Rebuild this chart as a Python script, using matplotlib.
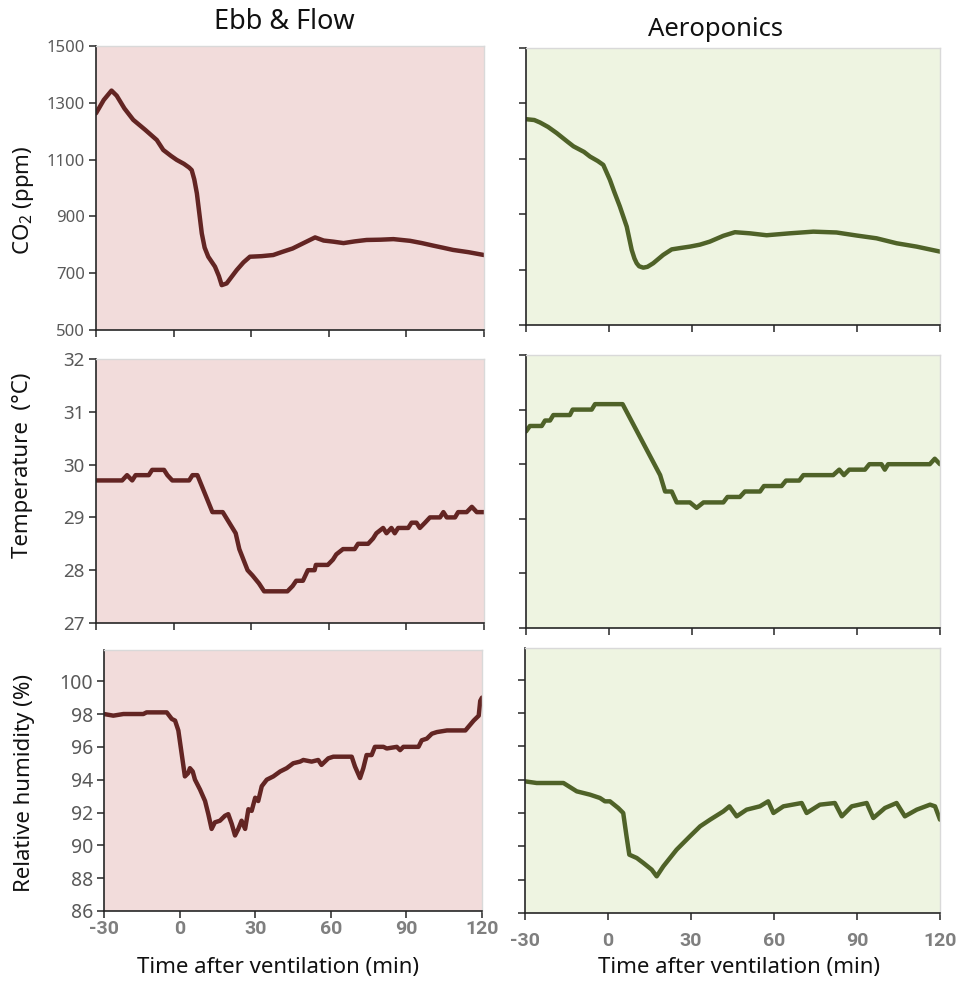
import matplotlib
matplotlib.use("Agg")
import matplotlib.pyplot as plt
import numpy as np

plt.rcParams['font.family'] = ['Noto Sans', 'DejaVu Sans']
plt.rcParams['mathtext.fontset'] = 'custom'
plt.rcParams['mathtext.rm'] = 'Noto Sans'
plt.rcParams['mathtext.it'] = 'Noto Sans:italic'

# ---------------- data ----------------
# Ebb & Flow CO2
ef_co2_t = [-30, -27, -24, -22, -19, -15.6, -11, -6.5, -4, -1, 1.2, 4, 6, 7, 8, 9, 10.9, 12, 13.4,
            16, 17.5, 18.6, 20.5, 24.4, 27, 29.5, 34, 38.5, 42, 46, 50, 54.7, 58, 61.8, 65.7,
            70, 74.6, 80, 85, 91.4, 96, 100.4, 104, 108, 114, 120]
ef_co2_v = [1263, 1310, 1343, 1325, 1280, 1240, 1205, 1169, 1134, 1113, 1099, 1085, 1072, 1063, 1030,
            981, 840, 790, 758, 723, 690, 658, 664, 711, 738, 758, 760, 764, 775, 787, 805, 826, 815,
            811, 806, 812, 817, 818, 820, 814, 806, 797, 790, 782, 774, 764]

# Aeroponics CO2
ae_co2_t = [-30, -27, -24.9, -22, -18.9, -15, -12.8, -9, -6.8, -4, -2, 0.4, 2, 4, 6.5, 8.3, 9.3,
            10.1, 11, 12.5, 14, 16.1, 19.7, 22.8, 26, 29.4, 33, 36.6, 41.5, 45.7, 51.1, 57.2,
            65.6, 74.1, 82.5, 89.8, 97, 104.3, 111.5, 120]
ae_co2_v = [1243, 1240, 1231, 1215, 1193, 1162, 1145, 1125, 1108, 1092, 1078, 1024, 980, 928, 855, 771,
            740, 723, 712, 707, 710, 723, 753, 773, 778, 783, 790, 801, 822, 835, 831, 824,
            831, 837, 834, 823, 813, 795, 783, 765]

# Ebb & Flow temperature
ef_tmp_t = [-30, -19.9, -18, -16, -14.7, -9.6, -8.3, -3.7, -2.4, -0.5, 6, 7.3, 9.2, 15, 19,
            24, 25.4, 28.6, 30.5, 33, 35, 44, 46, 47.4, 50, 51.9, 54.5, 55, 59.6, 61.6, 62.9,
            65.5, 70, 71.3, 75.2, 77.1, 78.4, 81, 82.3, 84.2, 85.5, 86.8, 90.7, 92, 93.9, 95.2,
            97.2, 99.1, 103, 104.3, 105.6, 108.8, 110, 113.3, 115.3, 117.2, 120]
ef_tmp_v = [29.7, 29.7, 29.8, 29.7, 29.8, 29.8, 29.9, 29.9, 29.8, 29.7, 29.7, 29.8, 29.8, 29.1, 29.1,
            28.7, 28.4, 28.0, 27.9, 27.75, 27.6, 27.6, 27.7, 27.8, 27.8, 28.0, 28.0, 28.1, 28.1, 28.2, 28.3,
            28.4, 28.4, 28.5, 28.5, 28.6, 28.7, 28.8, 28.7, 28.8, 28.7, 28.8, 28.8, 28.9, 28.9, 28.8,
            28.9, 29.0, 29.0, 29.1, 29.0, 29.0, 29.1, 29.1, 29.2, 29.1, 29.1]

# Aeroponics temperature
ae_tmp_t = [-30, -28.6, -24.3, -23.1, -21.3, -20.1, -14.1, -13.1, -6.2, -5, 5, 18.6, 20.4, 22.8,
            24.6, 29.4, 31.8, 34.3, 41.5, 43, 47.5, 49.3, 54.8, 56.2, 62.6, 64.2, 69, 70.5, 81.3,
            83.5, 85.2, 87.1, 92.8, 94.4, 98.8, 100, 101.2, 116.3, 118.1, 120]
ae_tmp_v = [30.6, 30.7, 30.7, 30.8, 30.8, 30.9, 30.9, 31.0, 31.0, 31.1, 31.1, 29.8, 29.5, 29.5,
            29.3, 29.3, 29.2, 29.3, 29.3, 29.4, 29.4, 29.5, 29.5, 29.6, 29.6, 29.7, 29.7, 29.8, 29.8,
            29.9, 29.8, 29.9, 29.9, 30.0, 30.0, 29.9, 30.0, 30.0, 30.1, 30.0]

# Ebb & Flow relative humidity
ef_rh_t = [-30, -26.3, -22.3, -14.4, -13.1, -5.1, -3.1, -1.8, -0.5, 0.8, 2.1, 3.4, 4.1, 5.2, 6.1,
           8.1, 10.1, 11.4, 12.7, 14.0, 16.0, 18.0, 19.3, 20.7, 22.0, 23.3, 24.6, 26.0, 27.3,
           28.6, 30.0, 31.2, 32.6, 34.6, 37.2, 39.9, 42.5, 45.1, 47.8, 49.1, 52.4, 55, 56.3, 59,
           61, 68.3, 69.6, 71.6, 72.9, 74.2, 76.2, 77.5, 80.9, 82.2, 86.2, 87.5, 88.8, 94.8, 96.1,
           98.1, 100.1, 102.1, 106.1, 113.4, 116.7, 118.7, 119.3, 120]
ef_rh_v = [98.0, 97.9, 98.0, 98.0, 98.1, 98.1, 97.7, 97.6, 97.0, 95.6, 94.2, 94.4, 94.7, 94.5, 94.0,
           93.4, 92.7, 91.9, 91.0, 91.4, 91.5, 91.8, 91.9, 91.3, 90.6, 91.0, 91.5, 91.0, 92.2,
           92.1, 92.9, 92.7, 93.6, 94.0, 94.2, 94.5, 94.7, 95.0, 95.1, 95.2, 95.1, 95.2, 94.9, 95.3,
           95.4, 95.4, 94.8, 94.1, 94.7, 95.5, 95.5, 96.0, 96.0, 95.9, 96.0, 95.8, 96.0, 96.0, 96.4,
           96.5, 96.8, 96.9, 97.0, 97.0, 97.6, 97.9, 98.8, 99.0]

# Aeroponics relative humidity
ae_rh_t = [-30, -25.8, -16.1, -11.3, -6.5, -2.9, -1.1, 0.7, 3.7, 5.5, 6.7, 7.7, 10.4, 12.8, 15.8,
           17.6, 20.0, 24.8, 29.6, 33.3, 36.9, 41.7, 43.9, 46.5, 50.1, 54.9, 57.9, 59.8, 63.4, 70,
           71.8, 76.6, 82, 84.5, 88.1, 93.5, 95.9, 100.1, 104.3, 107.3, 111.6, 116.4, 118.2, 120]
ae_rh_v = [93.9, 93.8, 93.8, 93.3, 93.1, 92.9, 92.7, 92.7, 92.3, 92.0, 90.6, 89.5, 89.3, 89.0, 88.6,
           88.2, 88.8, 89.8, 90.6, 91.2, 91.6, 92.1, 92.4, 91.8, 92.2, 92.4, 92.7, 92.0, 92.4, 92.6,
           92.0, 92.5, 92.6, 91.8, 92.4, 92.6, 91.7, 92.3, 92.6, 91.8, 92.2, 92.5, 92.4, 91.6]

x_ticks = [-30, 0, 30, 60, 90, 120]
co2_ticks = [500, 700, 900, 1100, 1300, 1500]
tmp_ticks = [27, 28, 29, 30, 31, 32]
rh_ticks = [86, 88, 90, 92, 94, 96, 98, 100]

titles = ["Ebb & Flow", "Aeroponics"]
ylabels = ["CO$_\\mathregular{2}$ (ppm)", "Temperature  (\u00b0C)", "Relative humidity (%)"]
xlabel = "Time after ventilation (min)"

# ---------------- style ----------------
W, H = 956, 981
fig = plt.figure(figsize=(W / 100, H / 100), dpi=100)

bg = ["#F2DCDB", "#EEF4E1"]
lc = ["#632523", "#4F6228"]
tick_col = "#595959"

def px_rect(x0, x1, y0, y1):
    return [x0 / W, 1 - y1 / H, (x1 - x0) / W, (y1 - y0) / H]

rects = [
    [px_rect(96, 484, 46, 330), px_rect(526, 940, 48, 325)],
    [px_rect(96, 484, 359, 623), px_rect(526, 940, 355, 628)],
    [px_rect(104, 482, 650, 911), px_rect(525, 940, 648, 913)],
]

data = [
    [(ef_co2_t, ef_co2_v), (ae_co2_t, ae_co2_v)],
    [(ef_tmp_t, ef_tmp_v), (ae_tmp_t, ae_tmp_v)],
    [(ef_rh_t, ef_rh_v), (ae_rh_t, ae_rh_v)],
]
ylims = [(500, 1500), (27, 32), (86, 101.9)]
yticks = [co2_ticks, tmp_ticks, rh_ticks]
ytick_size = [12, 13.5, 14]
ylabel_pos = [(23, 200), (23, 465), (25, 783)]
xlabel_pos = [(278, 967), (739, 968)]
xtick_pad = [1.5, 8.5]

for r in range(3):
    for c in range(2):
        ax = fig.add_axes(rects[r][c])
        ax.set_facecolor(bg[c])
        t, v = data[r][c]
        ax.plot(t, v, color=lc[c], lw=3.2, solid_joinstyle='round', solid_capstyle='round')
        ax.set_xlim(-30, 120)
        ax.set_ylim(*ylims[r])
        ax.set_xticks(x_ticks)
        ax.set_yticks(yticks[r])
        for s in ['top', 'right']:
            ax.spines[s].set_color('#D9D9D9')
            ax.spines[s].set_linewidth(1.0)
        for s in ['left', 'bottom']:
            ax.spines[s].set_color('#262626')
            ax.spines[s].set_linewidth(1.2)
        ax.tick_params(direction='out', length=5, width=1.1, color='#262626',
                       labelcolor=tick_col)
        ax.tick_params(axis='y', labelsize=ytick_size[r], pad=3)
        if r < 2:
            ax.set_xticklabels([])
        else:
            ax.tick_params(axis='x', pad=xtick_pad[c])
            ax.set_xticklabels([str(x) for x in x_ticks], family=['Roboto', 'DejaVu Sans'],
                               fontweight='bold', fontsize=14, color='#7F7F7F')
        if c == 1:
            ax.set_yticklabels([])

for r in range(3):
    x, y = ylabel_pos[r]
    fig.text(x / W, 1 - y / H, ylabels[r], fontsize=16, rotation=90,
             ha='center', va='center', color='#111111')
for c in range(2):
    x, y = xlabel_pos[c]
    fig.text(x / W, 1 - y / H, xlabel, fontsize=16, ha='center', va='center', color='#111111')

fig.text(284 / W, 1 - 22 / H, titles[0], fontsize=19.5, ha='center', va='center', color='#111111')
fig.text(716 / W, 1 - 29 / H, titles[1], fontsize=18.5, ha='center', va='center', color='#111111')

fig.savefig("out.png", dpi=100, facecolor='white')
